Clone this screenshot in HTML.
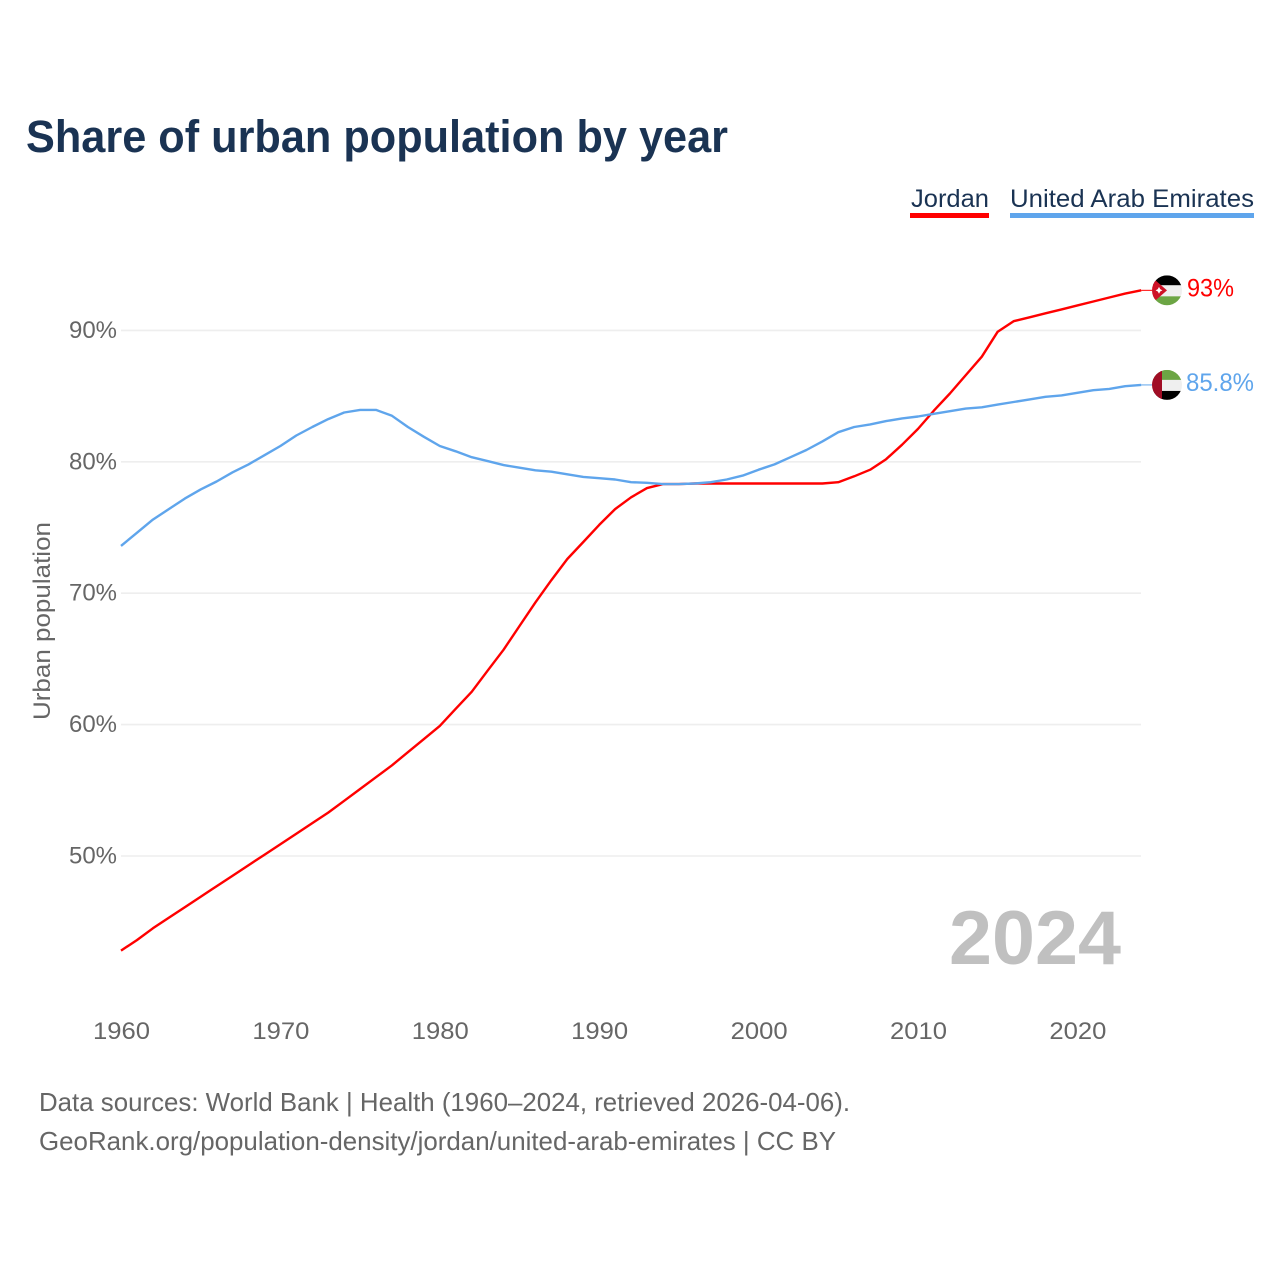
<!DOCTYPE html>
<html lang="en">
<head>
<meta charset="utf-8">
<title>Share of urban population by year</title>
<style>
html,body{margin:0;padding:0;background:#fff;}
svg{display:block;font-family:"Liberation Sans",sans-serif;}
</style>
</head>
<body>
<svg id="chart" width="1280" height="1280" viewBox="0 0 1280 1280" xmlns="http://www.w3.org/2000/svg">
  <defs>
    <clipPath id="flag-clip"><circle cx="0" cy="0" r="15"/></clipPath>
  </defs>
  <rect x="0" y="0" width="1280" height="1280" fill="#ffffff"/>
  <text x="26" y="152" font-size="45" font-weight="700" fill="#1a3353" textLength="702" lengthAdjust="spacingAndGlyphs">Share of urban population by year</text>

  <g>
    <g>
      <text x="911" y="207" font-size="25" fill="#1a3353" textLength="78" lengthAdjust="spacingAndGlyphs">Jordan</text>
      <rect x="910" y="213" width="79" height="5" fill="#ff0000"/>
    </g>
    <g>
      <text x="1010" y="207" font-size="25" fill="#1a3353" textLength="244" lengthAdjust="spacingAndGlyphs">United Arab Emirates</text>
      <rect x="1010" y="213" width="244" height="5" fill="#5fa5ec"/>
    </g>
  </g>

  <g id="grid"></g>
  <g id="y-ticks"></g>
  <g id="x-ticks"></g>
  <text transform="translate(50,720) rotate(-90)" x="0" y="0" font-size="24" fill="#666666" textLength="198" lengthAdjust="spacingAndGlyphs">Urban population</text>

  <text x="949" y="964" font-size="76" font-weight="700" fill="#c0c0c0" textLength="172" lengthAdjust="spacingAndGlyphs">2024</text>

  <g id="series"></g>

  <g id="flag-jordan">
    <g clip-path="url(#flag-clip)">
      <rect x="-15" y="-15" width="30" height="10" fill="#000000"/>
      <rect x="-15" y="-5" width="30" height="11" fill="#efefef"/>
      <rect x="-15" y="6" width="30" height="9" fill="#6ca544"/>
      <polygon points="-15,-13 0,0 -15,13" fill="#ce1126"/>
      <polygon points="-8,-3.4 -6.8,-1.2 -4.6,0 -6.8,1.2 -8,3.4 -9.2,1.2 -11.4,0 -9.2,-1.2" fill="#ffffff"/>
    </g>
  </g>
  <g id="flag-uae">
    <g clip-path="url(#flag-clip)">
      <rect x="-15" y="-15" width="30" height="10" fill="#6ca544"/>
      <rect x="-15" y="-5" width="30" height="11" fill="#efefef"/>
      <rect x="-15" y="6" width="30" height="9" fill="#000000"/>
      <rect x="-15" y="-15" width="10" height="30" fill="#a00d25"/>
    </g>
  </g>
  <g id="end-labels"></g>

  <text x="39" y="1111" font-size="26" fill="#666666" textLength="811" lengthAdjust="spacingAndGlyphs">Data sources: World Bank | Health (1960–2024, retrieved 2026-04-06).</text>
  <text x="39" y="1150" font-size="26" fill="#666666" textLength="797" lengthAdjust="spacingAndGlyphs">GeoRank.org/population-density/jordan/united-arab-emirates | CC BY</text>
</svg>
<script>
const firstYear = 1960;
const yTickValues = [50, 60, 70, 80, 90];
const yTickLabels = ["50%", "60%", "70%", "80%", "90%"];
const xTickValues = [1960, 1970, 1980, 1990, 2000, 2010, 2020];
const xTickLabels = ["1960", "1970", "1980", "1990", "2000", "2010", "2020"];

const jordanValues = [
  42.8, 43.6, 44.5, 45.3, 46.1, 46.9, 47.7, 48.5, 49.3, 50.1,
  50.9, 51.7, 52.5, 53.3, 54.2, 55.1, 56.0, 56.9, 57.9, 58.9,
  59.9, 61.2, 62.5, 64.1, 65.7, 67.5, 69.3, 71.0, 72.6, 73.9,
  75.2, 76.4, 77.3, 78.0, 78.3, 78.3, 78.35, 78.35, 78.35, 78.35,
  78.35, 78.35, 78.35, 78.35, 78.35, 78.45, 78.9, 79.4, 80.2, 81.3,
  82.5, 83.9, 85.2, 86.6, 88.0, 89.9, 90.7, 91.0, 91.3, 91.6,
  91.9, 92.2, 92.5, 92.8, 93.05
];
const uaeValues = [
  73.6, 74.6, 75.6, 76.4, 77.2, 77.9, 78.5, 79.2, 79.8, 80.5,
  81.2, 82.0, 82.65, 83.25, 83.75, 83.95, 83.95, 83.5, 82.65, 81.9,
  81.2, 80.8, 80.35, 80.05, 79.75, 79.55, 79.35, 79.25, 79.05, 78.85,
  78.75, 78.65, 78.45, 78.4, 78.3, 78.3, 78.35, 78.45, 78.65, 78.95,
  79.4, 79.8, 80.35, 80.9, 81.55, 82.25, 82.65, 82.85, 83.1, 83.3,
  83.45, 83.65, 83.85, 84.05, 84.15, 84.35, 84.55, 84.75, 84.95, 85.05,
  85.25, 85.45, 85.55, 85.75, 85.85
];
const jordanLabel = "93%";
const uaeLabel = "85.8%";

const SVG_NS = "http://www.w3.org/2000/svg";
const xScale = function (year) { return 121 + (year - 1960) * 15.94; };
const yScale = function (value) { return 856 - (value - 50) * 13.14; };

function make(tag, attrs, text) {
  const el = document.createElementNS(SVG_NS, tag);
  for (const key in attrs) { el.setAttribute(key, attrs[key]); }
  if (text !== undefined) { el.textContent = text; }
  return el;
}

const grid = document.getElementById("grid");
const yTicks = document.getElementById("y-ticks");
const xTicks = document.getElementById("x-ticks");
const series = document.getElementById("series");
const endLabels = document.getElementById("end-labels");

yTickValues.forEach(function (v, i) {
  const line = make("line", { x1: 121, x2: 1141, y1: yScale(v), y2: yScale(v), stroke: "#eeeeee", "stroke-width": 1.6 });
  
  
  grid.appendChild(line);
  const label = make("text", { x: 69, y: yScale(v) + 7.5, "font-size": 24, fill: "#666666", textLength: 48, lengthAdjust: "spacingAndGlyphs" }, yTickLabels[i]);
  
  
  yTicks.appendChild(label);
});

xTickValues.forEach(function (yr, i) {
  const label = make("text", { x: xScale(yr) - 28, y: 1039, "font-size": 24, fill: "#666666", textLength: 57, lengthAdjust: "spacingAndGlyphs" }, xTickLabels[i]);
  
  
  xTicks.appendChild(label);
});

function pathFor(values) {
  return values.map(function (v, i) {
    return (i === 0 ? "M" : "L") + xScale(firstYear + i).toFixed(1) + "," + yScale(v).toFixed(1);
  }).join(" ");
}

function lastYear(values) { return firstYear + values.length - 1; }

function drawEnd(values, colour) {
  const yEnd = yScale(values[values.length - 1]);
  const tail = make("line", { x1: xScale(lastYear(values)), x2: 1153, y1: yEnd, y2: yEnd, stroke: colour, "stroke-width": 1 });
  
  
  series.appendChild(tail);
}

const jordanLine = make("path", { d: pathFor(jordanValues), fill: "none", stroke: "#ff0000", "stroke-width": 2.4, "stroke-linejoin": "round" });


series.appendChild(jordanLine);
drawEnd(jordanValues, "#ff0000");

const uaeLine = make("path", { d: pathFor(uaeValues), fill: "none", stroke: "#5fa5ec", "stroke-width": 2.4, "stroke-linejoin": "round" });


series.appendChild(uaeLine);
drawEnd(uaeValues, "#5fa5ec");

const jordanEndY = yScale(jordanValues[jordanValues.length - 1]);
const uaeEndY = yScale(uaeValues[uaeValues.length - 1]);
document.getElementById("flag-jordan").setAttribute("transform", "translate(1167," + jordanEndY + ")");
document.getElementById("flag-uae").setAttribute("transform", "translate(1167," + uaeEndY + ")");

const jordanEnd = make("text", { x: 1187, y: jordanEndY + 6, "font-size": 25, fill: "#ff0000", textLength: 47, lengthAdjust: "spacingAndGlyphs" }, jordanLabel);


endLabels.appendChild(jordanEnd);

const uaeEnd = make("text", { x: 1186, y: uaeEndY + 6, "font-size": 25, fill: "#5fa5ec", textLength: 68, lengthAdjust: "spacingAndGlyphs" }, uaeLabel);


endLabels.appendChild(uaeEnd);
</script>
</body>
</html>
